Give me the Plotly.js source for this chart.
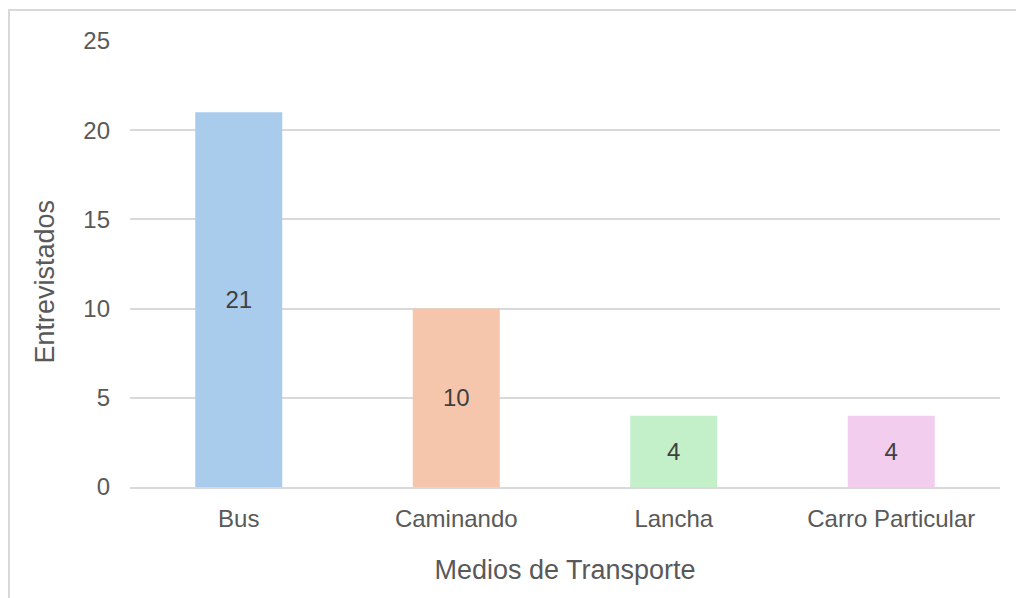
<!DOCTYPE html>
<html>
<head>
<meta charset="utf-8">
<script src="https://cdn.plot.ly/plotly-3.0.1.min.js"></script>
<style>
html,body{margin:0;padding:0;background:#fff;overflow:hidden;}
#frame{position:absolute;left:8px;top:9px;width:1010px;height:600px;border-left:2px solid #d9d9d9;border-top:2px solid #d9d9d9;}
#chart{position:absolute;left:0;top:0;width:1016px;height:598px;}
</style>
</head>
<body>
<div id="frame"></div>
<div id="chart"></div>
<script>
const categories = ["Bus", "Caminando", "Lancha", "Carro Particular"];
const values = [21, 10, 4, 4];
const barColors = ["#a9cbec", "#f5c6ab", "#c3f0c8", "#f2cdee"];
const yTicks = [0, 5, 10, 15, 20, 25];
const xTitle = "Medios de Transporte";
const yTitle = "Entrevistados";

const trace = {
  type: "bar",
  x: categories,
  y: values,
  marker: {color: barColors},
  width: 0.4,
  text: values.map(String),
  textposition: "inside",
  insidetextanchor: "middle",
  textangle: 0,
  textfont: {family: "Liberation Sans, Arial, sans-serif", size: 24, color: "#404040"},
  hoverinfo: "none"
};

const layout = {
  width: 1016,
  height: 598,
  margin: {l: 130, r: 16, t: 41, b: 111},
  paper_bgcolor: "rgba(0,0,0,0)",
  plot_bgcolor: "rgba(0,0,0,0)",
  showlegend: false,
  font: {family: "Liberation Sans, Arial, sans-serif", color: "#595959"},
  xaxis: {
    type: "category",
    showgrid: false,
    showline: true,
    linecolor: "#d9d9d9",
    linewidth: 2,
    ticks: "",
    tickfont: {size: 24, color: "#595959"},
    ticklabelstandoff: 9,
    title: {text: xTitle, font: {size: 27, color: "#595959"}, standoff: 29}
  },
  yaxis: {
    range: [0, 25],
    tickvals: yTicks,
    ticktext: yTicks.map(String),
    showgrid: true,
    gridcolor: "#d9d9d9",
    gridwidth: 2,
    zeroline: false,
    showline: false,
    ticks: "",
    tickfont: {size: 24, color: "#595959"},
    ticklabelstandoff: 19
  },
  annotations: [{
    text: yTitle,
    xref: "paper", yref: "paper",
    x: -0.0977, y: 0.4608,
    xanchor: "center", yanchor: "middle",
    textangle: -90,
    showarrow: false,
    font: {size: 27, color: "#595959"}
  }]
};

Plotly.newPlot("chart", [trace], layout, {displayModeBar: false, staticPlot: true});
</script>
</body>
</html>
